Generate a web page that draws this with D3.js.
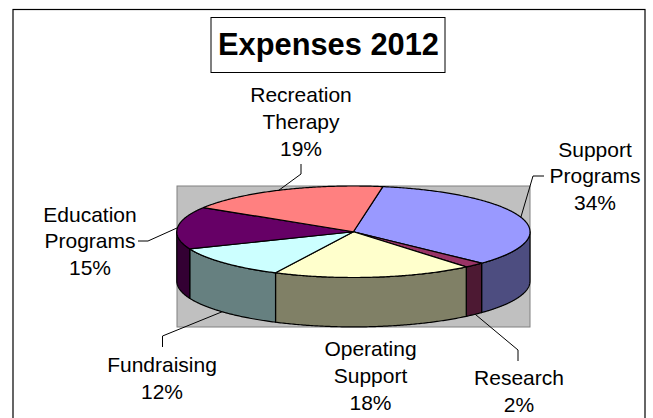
<!DOCTYPE html>
<html>
<head>
<meta charset="utf-8">
<title>Expenses 2012</title>
<script src="https://d3js.org/d3.v7.min.js"></script>
<style>
  html, body { margin: 0; padding: 0; background: #fff; }
  svg { display: block; }
  text { font-family: "Liberation Sans", Arial, sans-serif; fill: #000; }
</style>
</head>
<body>
<div id="chart"></div>
<script>
// values (slice angles, they round to the printed labels)
var categories = ["Support Programs", "Research", "Operating Support", "Fundraising", "Education Programs", "Recreation Therapy"];
var percents = [34.4, 1.9, 18.3, 11.6, 15.0, 18.8];
var topColors = ["#9999ff", "#993366", "#ffffcc", "#ccffff", "#660066", "#ff8080"];
var sideColors = ["#4d4d80", "#4d1933", "#808066", "#668080", "#330033", "#804040"];
var labelLines = [["Support", "Programs"], ["Research"], ["Operating", "Support"], ["Fundraising"], ["Education", "Programs"], ["Recreation", "Therapy"]];
var labelAnchors = [[595, 156.5], [519, 385], [370.5, 356], [162, 372], [90, 221.5], [301, 102]];
// leader lines: elbow and end in px, the pie end comes from the rim angle
var leaderPoints = [[[533, 176], [544, 176]], [[518, 350], [518, 361]], [], [[162.5, 336], [162.5, 347]], [[148, 241], [138, 241]], [[301, 174], [301, 164]]];
var leaderAngles = [71.5, 136.4, null, 228, 275, 335];
var leaderOnSide = [false, true, false, true, false, false];

var width = 653, height = 418;
var startDeg = 9.6;

var x = d3.scaleLinear().domain([-1, 1]).range([176.8, 530]);
var y = d3.scaleLinear().domain([-1, 1]).range([186, 277.5]);
var depth = 49.4;

var svg = d3.select("#chart").append("svg").attr("width", width).attr("height", height);

// chart frame, bottom edge is cut off by the page
svg.append("rect").attr("x", 13).attr("y", 9.5).attr("width", 632).attr("height", 430)
  .attr("fill", "#fff").attr("stroke", "#000").attr("stroke-width", 1.2);

// grey plot area
svg.append("rect").attr("x", 177).attr("y", 186).attr("width", 353).attr("height", 141)
  .attr("fill", "#c0c0c0").attr("stroke", "#808080").attr("stroke-width", 1);

var pie = d3.pie().sort(null).value(function(d) { return d; })
  .startAngle(startDeg * Math.PI / 180).endAngle((startDeg + 360) * Math.PI / 180);
var slices = pie(percents);

function px(a) { return x(Math.sin(a)); }
function py(a) { return y(-Math.cos(a)); }
function steps(a0, a1) {
  var n = Math.max(2, Math.ceil((a1 - a0) / 0.01));
  return d3.range(n + 1).map(function(i) { return a0 + (a1 - a0) * i / n; });
}
var line = d3.line();

// side walls only where the rim faces the viewer
slices.forEach(function(s, i) {
  var a0 = Math.max(s.startAngle, Math.PI / 2), a1 = Math.min(s.endAngle, 3 * Math.PI / 2);
  if (a1 <= a0) return;
  var upper = steps(a0, a1).map(function(a) { return [px(a), py(a)]; });
  var lower = steps(a0, a1).reverse().map(function(a) { return [px(a), py(a) + depth]; });
  svg.append("path").attr("d", line(upper.concat(lower)) + "Z")
    .attr("fill", sideColors[i]).attr("stroke", "#000").attr("stroke-width", 1.2).attr("stroke-linejoin", "round");
});

// top faces
svg.selectAll("path.top").data(slices).enter().append("path")
  .attr("class", "top")
  .attr("d", function(s) {
    var pts = [[x(0), y(0)]].concat(steps(s.startAngle, s.endAngle).map(function(a) { return [px(a), py(a)]; }));
    return line(pts) + "Z";
  })
  .attr("fill", function(s, i) { return topColors[i]; })
  .attr("stroke", "#000").attr("stroke-width", 1.2).attr("stroke-linejoin", "round");

// leader lines
leaderPoints.forEach(function(p, i) {
  if (leaderAngles[i] === null) return;
  var a = leaderAngles[i] * Math.PI / 180;
  var start = [px(a), py(a) + (leaderOnSide[i] ? depth : 0)];
  svg.append("path").attr("d", line([start].concat(p))).attr("fill", "none").attr("stroke", "#000").attr("stroke-width", 1);
});

// data labels
labelLines.forEach(function(lines, i) {
  var t = svg.append("text").attr("text-anchor", "middle").attr("font-size", 21);
  lines.concat(Math.round(percents[i]) + "%").forEach(function(l, j) {
    t.append("tspan").attr("x", labelAnchors[i][0]).attr("y", labelAnchors[i][1] + j * 26.8).text(l);
  });
});

// title box
svg.append("rect").attr("x", 211).attr("y", 17.5).attr("width", 234).attr("height", 55)
  .attr("fill", "#fff").attr("stroke", "#000").attr("stroke-width", 1);
svg.append("text").attr("x", 328.5).attr("y", 55).attr("text-anchor", "middle")
  .attr("font-size", 30.8).attr("font-weight", "bold").text("Expenses 2012");
</script>
</body>
</html>
